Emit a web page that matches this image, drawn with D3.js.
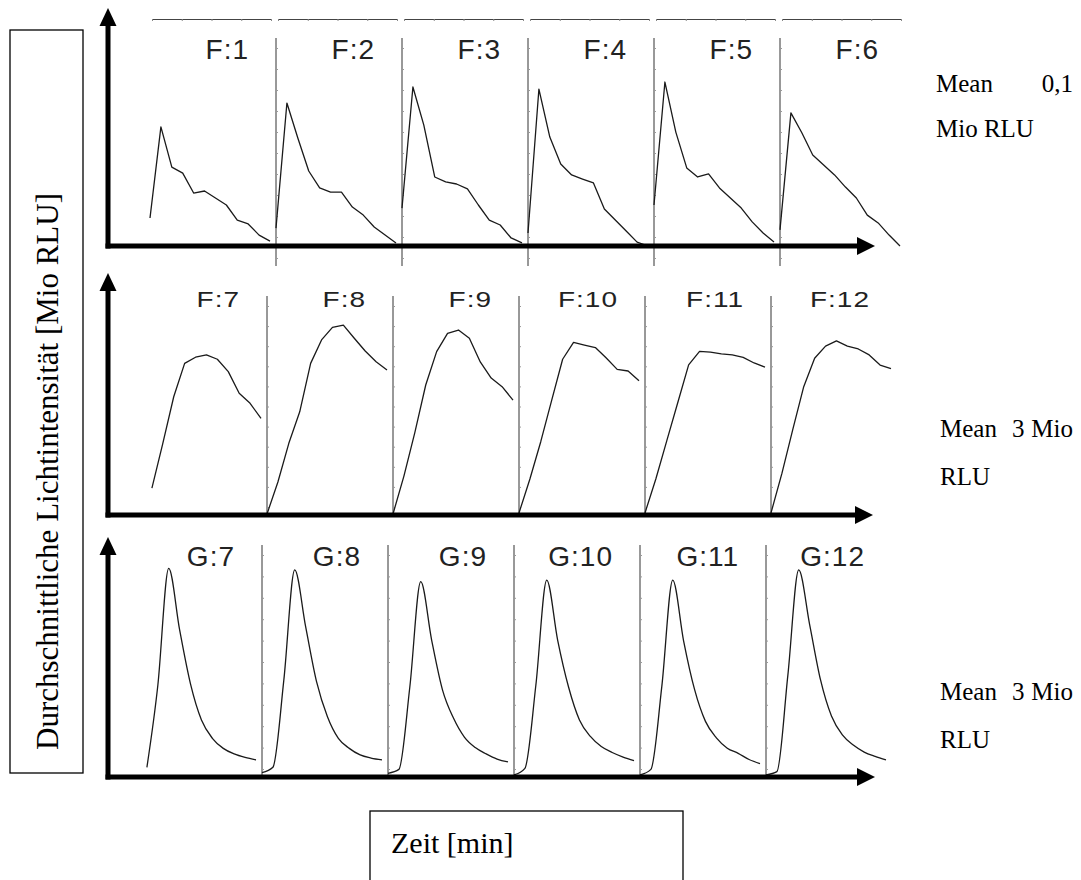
<!DOCTYPE html>
<html><head><meta charset="utf-8">
<script src="https://cdn.jsdelivr.net/npm/d3@7"></script>
<style>body{margin:0;background:#fff}svg{display:block}</style>
</head><body>
<svg id="c" width="1081" height="880"></svg>
<script>
// ---- data (relative light intensity per time point, 12 time points per well) ----
const timePoints = [0,1,2,3,4,5,6,7,8,9,10,11];

const topLabels = ["F:1","F:2","F:3","F:4","F:5","F:6"];
const topValues = [
  [13.6, 57.8, 38.3, 35.4, 25.7, 26.7, 23.3, 19.9, 12.6, 10.7, 5.3, 2.4],
  [8.7, 69.4, 52.4, 36.4, 28.2, 26.2, 26.2, 18.9, 15.0, 9.2, 5.3, 1.5],
  [18.4, 77.2, 58.7, 33.5, 31.1, 30.1, 27.7, 19.9, 12.6, 10.2, 3.9, 1.5],
  [6.3, 76.2, 52.9, 39.8, 34.5, 32.5, 30.6, 18.0, 12.6, 7.3, 1.9, 0],
  [19.9, 79.6, 55.3, 37.9, 33.5, 35.0, 28.2, 23.3, 18.4, 11.7, 6.3, 1.9],
  [7.8, 64.6, 55.0, 44.2, 39.3, 34.5, 28.6, 23.3, 15.0, 11.2, 5.3, 0]
];

const midLabels = ["F:7","F:8","F:9","F:10","F:11","F:12"];
const midValues = [
  [null, 13.0, 34.8, 57.4, 73.6, 76.6, 77.7, 75.6, 69.6, 59.1, 54.2, 46.9],
  [0.5, 16.0, 34.8, 50.1, 73.6, 85.0, 91.1, 92.2, 85.8, 79.6, 74.4, 70.4],
  [0.5, 18.9, 40.0, 63.1, 79.3, 88.2, 89.8, 85.8, 74.3, 66.5, 62.3, 55.8],
  [1.0, 17.5, 35.7, 55.8, 75.6, 83.8, 82.5, 81.3, 76.2, 70.7, 69.9, 65.2],
  [1.0, 17.6, 36.1, 54.5, 72.9, 79.4, 79.1, 78.2, 77.7, 76.5, 73.8, 71.8],
  [1.0, 20.2, 41.6, 62.3, 76.1, 82.0, 84.5, 82.0, 80.6, 77.7, 72.8, 71.1]
];

const botLabels = ["G:7","G:8","G:9","G:10","G:11","G:12"];
const botValues = [
  [null, 4.7, 44.4, 101.3, 71.4, 45.1, 27.7, 18.8, 13.9, 11.2, 9.5, 8.3],
  [2.1, 4.7, 47.0, 100.5, 73.0, 46.3, 29.3, 18.8, 13.9, 10.7, 9.2, 8.3],
  [1.8, 3.7, 43.7, 94.8, 66.5, 42.2, 28.6, 19.4, 14.3, 11.2, 8.7, 7.3],
  [1.0, 4.2, 44.4, 95.6, 66.5, 43.7, 27.7, 19.7, 14.8, 11.9, 9.7, 8.0],
  [1.0, 3.7, 44.0, 95.6, 66.0, 42.5, 27.0, 19.0, 14.0, 11.5, 8.5, 6.5],
  [1.0, 2.6, 49.2, 100.5, 74.0, 47.1, 29.6, 20.4, 15.5, 12.1, 10.0, 8.3]
];

const rowNotes = [["Mean", "0,1", "Mio RLU"], ["Mean", "3", "Mio", "RLU"], ["Mean", "3", "Mio", "RLU"]];
const yTitle = "Durchschnittliche Lichtintensität [Mio RLU]";
const xTitle = "Zeit [min]";

// ---- layout ----
const svg = d3.select("#c");
const rows = [
  {labels: topLabels, values: topValues, x0: 150, base: 246, tip: 8,   divTop: 38,  divBot: 266, labelY: 59,  sy: 1,    curve: d3.curveLinear,     topLine: true,  xTip: 875, noteX: 936, noteY: 92,  noteGap: 45},
  {labels: midLabels, values: midValues, x0: 141, base: 515, tip: 273, divTop: 296, divBot: 515, labelY: 307, sy: 0.8,  curve: d3.curveLinear,     topLine: false, xTip: 873, noteX: 940, noteY: 437, noteGap: 48},
  {labels: botLabels, values: botValues, x0: 136, base: 777, tip: 537, divTop: 545, divBot: 777, labelY: 566, sy: 1,    curve: d3.curveMonotoneX,  topLine: false, xTip: 875, noteX: 940, noteY: 700, noteGap: 48}
];
const panelW = 126;
const axisX = 108;

rows.forEach((r, ri) => {
  const g = svg.append("g");
  const band = d3.scaleBand().domain(r.labels).range([r.x0, r.x0 + panelW * r.labels.length]);
  const xIn = d3.scaleLinear().domain([0, 11]).range([0, 120]);
  const y = d3.scaleLinear().domain([0, 100]).range([r.base, r.base - 206]);

  // panel dividers with faint ticks
  r.labels.forEach((lab, i) => {
    if (i === 0) return;
    const x = band(lab);
    g.append("line").attr("x1", x).attr("x2", x).attr("y1", r.divTop).attr("y2", r.divBot)
      .attr("stroke", "#333").attr("stroke-width", 1);
    const ax = g.append("g").attr("transform", `translate(${x},0)`)
      .call(d3.axisRight(d3.scaleLinear().domain([0, 10]).range([r.divBot - 8, r.divTop + 10])).ticks(10).tickSize(2).tickFormat(""));
    ax.select(".domain").remove();
    ax.selectAll("line").attr("stroke", "#999");
  });

  // top ruler lines (first row only)
  if (r.topLine) {
    r.labels.forEach(lab => {
      const s = d3.scaleLinear().domain([0, 4]).range([band(lab) + 2, band(lab) + band.bandwidth() - 5]);
      const ax = g.append("g").attr("transform", "translate(0,19)")
        .call(d3.axisBottom(s).ticks(4).tickSize(2).tickSizeOuter(0).tickFormat(""));
      ax.select(".domain").attr("stroke", "#444").attr("stroke-width", 1.2);
      ax.selectAll("line").attr("stroke", "#888");
    });
  }

  // curves
  const line = d3.line()
    .defined(d => d.v !== null)
    .x(d => d.x)
    .y(d => y(d.v))
    .curve(r.curve);
  r.values.forEach((vals, i) => {
    const x0 = band(r.labels[i]);
    const pts = timePoints.map((t, k) => ({x: x0 + xIn(t), v: vals[k]}));
    g.append("path").attr("d", line(pts)).attr("fill", "none")
      .attr("stroke", "#1a1a1a").attr("stroke-width", 1.3).attr("stroke-linejoin", "round");
  });

  // panel labels
  r.labels.forEach(lab => {
    const xr = band(lab) + band.bandwidth() - 27;
    g.append("text").attr("transform", `translate(${xr},${r.labelY}) scale(1,${r.sy})`)
      .attr("text-anchor", "end").attr("font-family", "'Liberation Sans', Arial, sans-serif")
      .attr("font-size", 28).attr("letter-spacing", 1).attr("fill", "#222").text(lab);
  });

  // thick axes with arrows
  g.append("line").attr("x1", axisX).attr("x2", axisX).attr("y1", r.base + 2.5).attr("y2", r.tip + 14)
    .attr("stroke", "#000").attr("stroke-width", 5);
  g.append("path").attr("d", `M${axisX},${r.tip} L${axisX - 8.5},${r.tip + 18} L${axisX + 8.5},${r.tip + 18} Z`).attr("fill", "#000");
  g.append("line").attr("x1", axisX - 2.5).attr("x2", r.xTip - 14).attr("y1", r.base).attr("y2", r.base)
    .attr("stroke", "#000").attr("stroke-width", 5);
  g.append("path").attr("d", `M${r.xTip},${r.base} L${r.xTip - 18},${r.base - 9} L${r.xTip - 18},${r.base + 9} Z`).attr("fill", "#000");

  // right-hand notes
  const note = rowNotes[ri];
  const nf = g.append("g").attr("font-family", "'Liberation Serif', 'Times New Roman', serif").attr("font-size", 25).attr("fill", "#000");
  if (ri === 0) {
    nf.append("text").attr("x", r.noteX).attr("y", r.noteY).text(note[0]);
    nf.append("text").attr("x", 1073).attr("y", r.noteY).attr("text-anchor", "end").text(note[1]);
    nf.append("text").attr("x", r.noteX).attr("y", r.noteY + r.noteGap).text(note[2]);
  } else {
    nf.append("text").attr("x", r.noteX).attr("y", r.noteY).text(note[0]);
    nf.append("text").attr("x", 1012).attr("y", r.noteY).text(note[1]);
    nf.append("text").attr("x", 1073).attr("y", r.noteY).attr("text-anchor", "end").text(note[2]);
    nf.append("text").attr("x", r.noteX).attr("y", r.noteY + r.noteGap).text(note[3]);
  }
});

// y-title box
svg.append("rect").attr("x", 10).attr("y", 30).attr("width", 73).attr("height", 743)
  .attr("fill", "none").attr("stroke", "#000").attr("stroke-width", 1.3);
svg.append("text").attr("transform", "translate(58,750) rotate(-90)")
  .attr("font-family", "'Liberation Serif', 'Times New Roman', serif").attr("font-size", 31).attr("fill", "#000").text(yTitle);

// x-title box
svg.append("rect").attr("x", 370).attr("y", 811).attr("width", 313).attr("height", 100)
  .attr("fill", "none").attr("stroke", "#000").attr("stroke-width", 1.3);
svg.append("text").attr("x", 391).attr("y", 853)
  .attr("font-family", "'Liberation Serif', 'Times New Roman', serif").attr("font-size", 30).attr("fill", "#000").text(xTitle);
</script>
</body></html>
